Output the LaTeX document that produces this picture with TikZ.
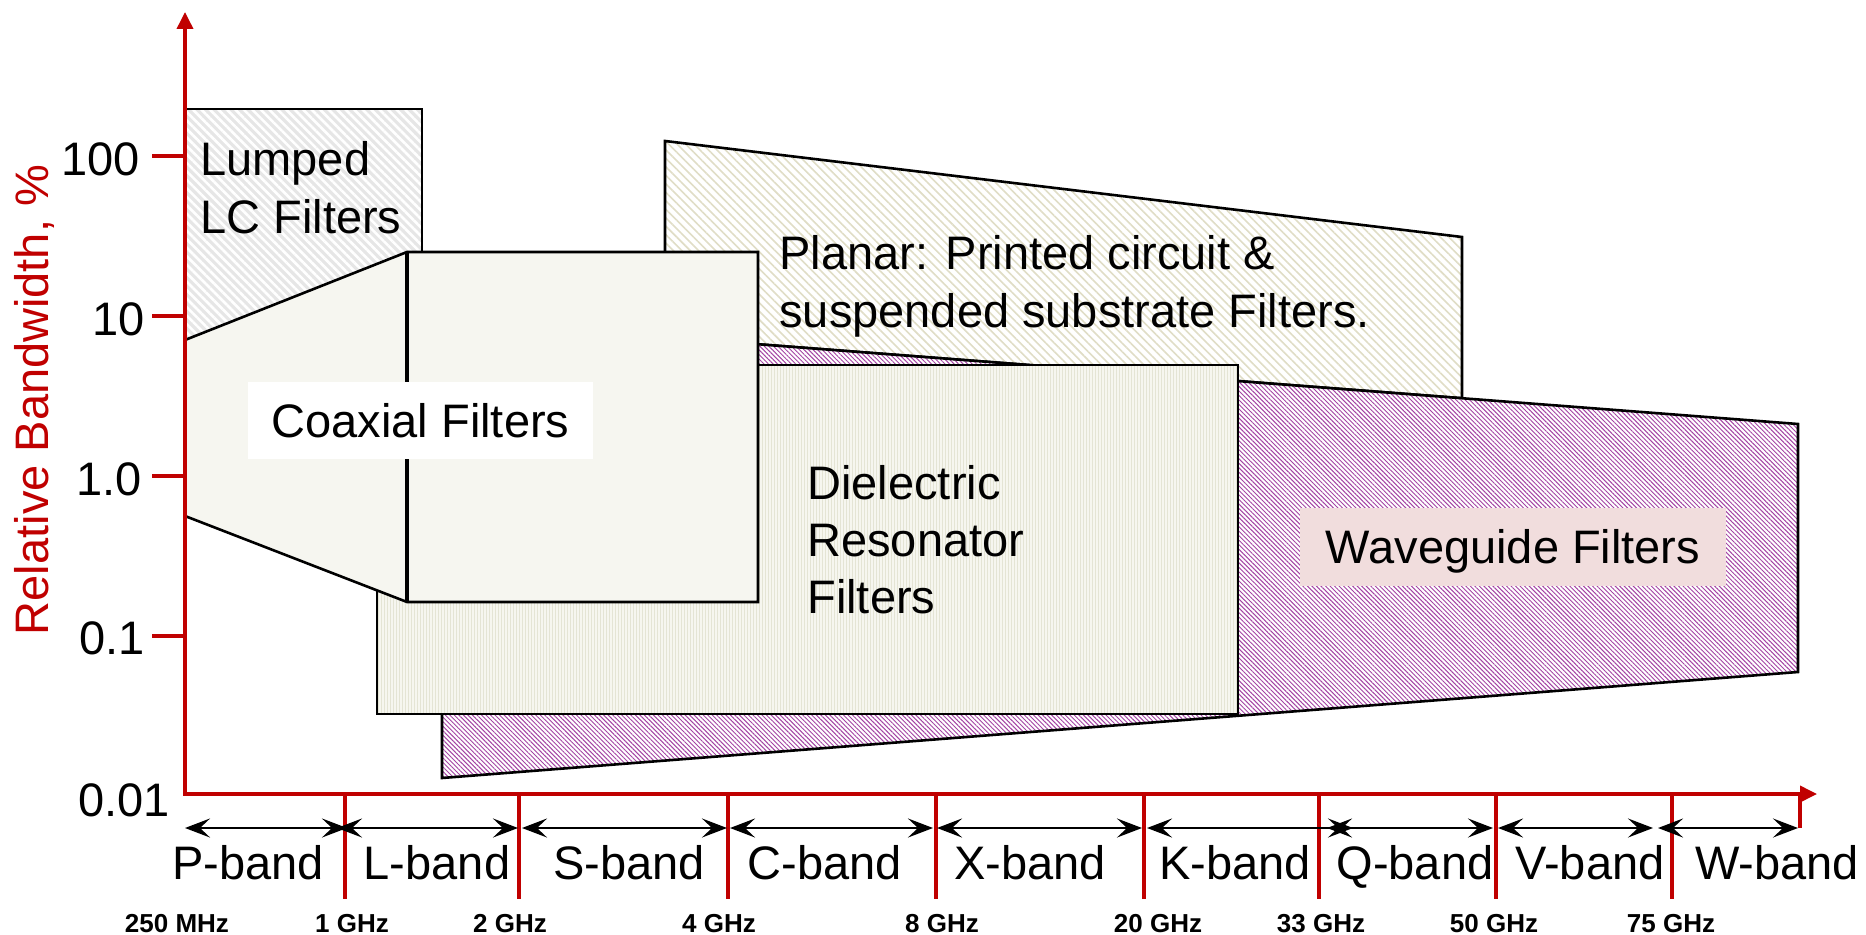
\documentclass[tikz,border=0pt]{standalone}
\usepackage{fontspec}
\setmainfont{Liberation Sans}
\usetikzlibrary{patterns.meta,arrows.meta}
\definecolor{axisred}{HTML}{C00000}
\definecolor{lumpgray}{HTML}{E6E6E6}
\definecolor{planarline}{HTML}{E0DDC6}
\definecolor{wgline}{HTML}{A444A4}
\definecolor{drfill}{HTML}{F6F6EF}
\definecolor{drline}{HTML}{E4E4D4}
\definecolor{coaxfill}{HTML}{F6F6F0}
\definecolor{wglabel}{HTML}{F1DDDD}
\begin{document}
\begin{tikzpicture}[x=0.5pt,y=-0.5pt,
  big/.style={font=\fontsize{23.5}{28}\selectfont, inner sep=0pt, text height=16.9pt, text depth=0pt},
  small/.style={font=\fontsize{13}{15}\selectfont\bfseries, inner sep=0pt, text height=9.4pt, text depth=0pt},
  border/.style={draw=black, line width=1.3pt, line join=miter},
  lumpedarea/.style={preaction={fill=lumpgray}, pattern={Lines[angle=-45,distance=3pt,line width=1.3pt]}, pattern color=white},
  planararea/.style={preaction={fill=white}, pattern={Lines[angle=-45,distance=3pt,line width=0.8pt]}, pattern color=planarline},
  wgarea/.style={preaction={fill=white}, pattern={Lines[angle=-45,distance=1.6pt,line width=0.48pt]}, pattern color=wgline},
  drarea/.style={preaction={fill=drfill}, pattern={Lines[angle=90,distance=1.5pt,line width=0.4pt]}, pattern color=drline},
  coaxarea/.style={fill=coaxfill},
  axisline/.style={draw=axisred, line width=1.8pt},
  tip/.tip={Stealth[length=12.5pt,width=9.5pt,inset=5pt]},
  bandarrow/.style={draw=black, line width=1.4pt, tip-tip},
]
\fill[white] (0,0) rectangle (1866,935);
\useasboundingbox (0,0) rectangle (1866,935);

% regions (back to front)
\path[lumpedarea, border] (185,109) rectangle (422,345);
\path[planararea, border] (665,141) -- (1462,237) -- (1462,398.2) -- (665,337.1) -- cycle;
\path[wgarea, border] (442,320) -- (1798,424) -- (1798,672) -- (442,778) -- cycle;
\path[drarea, border] (377,365) rectangle (1238,714);
\path[coaxarea, border] (185,340) -- (407,252) -- (758,252) -- (758,602) -- (407,602) -- (185,516) -- cycle;
\draw[line width=2pt] (407,252) -- (407,602);

% region labels
\node[big, anchor=west] (lumped1) at (200,158.5) {Lumped};
\node[big, anchor=west] (lumped2) at (200,216.5) {LC Filters};
\node[big, fill=white, minimum width=172.5pt, minimum height=38.5pt] (coaxlbl) at (420.5,420.5) {Coaxial Filters};
\node[big, anchor=west] (planar1) at (779,253) {Planar: Printed circuit \&};
\node[big, anchor=west] (planar2) at (779,310.5) {suspended substrate Filters.};
\node[big, anchor=west] (dr1) at (807,483) {Dielectric};
\node[big, anchor=west] (dr2) at (807,540) {Resonator};
\node[big, anchor=west] (dr3) at (807,597) {Filters};
\node[big, fill=wglabel, minimum width=213pt, minimum height=39pt] (wglbl) at (1513,547) {Waveguide Filters};

% axes
\draw[axisline, {Triangle[length=8.5pt,width=8pt]}-{Triangle[length=8.5pt,width=8pt]}] (185,12) -- (185,794) -- (1817,794);
\foreach \yy in {156,316,476,636} \draw[axisline] (152,\yy) -- (185,\yy);
\foreach \xx in {345,519,728,936,1144,1319,1496,1672} \draw[axisline] (\xx,794) -- (\xx,899);
\draw[axisline] (1800,794) -- (1800,828);

% y tick labels
\node[big, anchor=east] (t100) at (140,158.5) {100};
\node[big, anchor=east] (t10) at (145,319) {10};
\node[big, anchor=east] (t1) at (142,479) {1.0};
\node[big, anchor=east] (t01) at (145,637.5) {0.1};
\node[big, anchor=east] (t001) at (170,800) {0.01};
\node[big, text=axisred, rotate=90] (ylabel) at (32,400) {Relative Bandwidth, \%};

% band arrows
\draw[bandarrow] (185,828) -- (347,828);
\draw[bandarrow] (337,828) -- (518,828);
\draw[bandarrow] (522,828) -- (727,828);
\draw[bandarrow] (730,828) -- (933,828);
\draw[bandarrow] (937,828) -- (1142,828);
\draw[bandarrow] (1147,828) -- (1353,828);
\draw[bandarrow] (1327,828) -- (1493,828);
\draw[bandarrow] (1498,828) -- (1653,828);
\draw[bandarrow] (1658,828) -- (1798,828);

% band names
\node[big] (pband) at (248,863) {P-band};
\node[big] (lband) at (437,863) {L-band};
\node[big] (sband) at (629,863) {S-band};
\node[big] (cband) at (825,863) {C-band};
\node[big] (xband) at (1030,863) {X-band};
\node[big] (kband) at (1235,863) {K-band};
\node[big] (qband) at (1415,863) {Q-band};
\node[big] (vband) at (1590,863) {V-band};
\node[big] (wband) at (1777,863) {W-band};

% frequencies
\node[small] (f250) at (177,923) {250 MHz};
\node[small] (f1) at (352,923) {1 GHz};
\node[small] (f2) at (510,923) {2 GHz};
\node[small] (f4) at (719,923) {4 GHz};
\node[small] (f8) at (942,923) {8 GHz};
\node[small] (f20) at (1158,923) {20 GHz};
\node[small] (f33) at (1321,923) {33 GHz};
\node[small] (f50) at (1494,923) {50 GHz};
\node[small] (f75) at (1671,923) {75 GHz};
\end{tikzpicture}
\end{document}
